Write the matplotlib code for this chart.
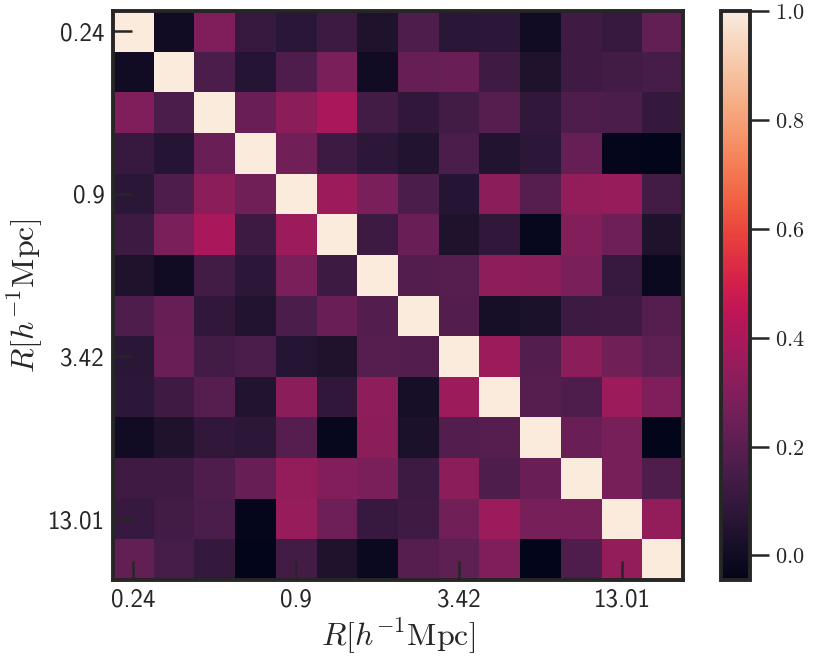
import numpy as np
import matplotlib
matplotlib.use("Agg")
import matplotlib.pyplot as plt
import seaborn as sns

plt.rcParams['mathtext.fontset'] = 'cm'
plt.rcParams['axes.unicode_minus'] = False

# radial bins (tick labels shown at every 4th bin)
tick_labels = ["0.24", "0.9", "3.42", "13.01"]
tick_index = [0, 4, 8, 12]

# upper triangle of the correlation matrix (row i, columns i..13)
r0 = [1.0, 0.00, 0.29, 0.11, 0.07, 0.12, 0.04, 0.17, 0.07, 0.08, 0.00, 0.13, 0.11, 0.22]
r1 = [1.0, 0.16, 0.06, 0.17, 0.28, 0.00, 0.23, 0.24, 0.13, 0.04, 0.13, 0.14, 0.15]
r2 = [1.0, 0.24, 0.32, 0.39, 0.14, 0.09, 0.14, 0.19, 0.09, 0.17, 0.16, 0.10]
r3 = [1.0, 0.26, 0.12, 0.08, 0.05, 0.16, 0.05, 0.08, 0.23, -0.035, -0.045]
r4 = [1.0, 0.36, 0.28, 0.16, 0.06, 0.32, 0.19, 0.34, 0.35, 0.14]
r5 = [1.0, 0.12, 0.24, 0.04, 0.09, -0.025, 0.30, 0.25, 0.04]
r6 = [1.0, 0.18, 0.19, 0.33, 0.32, 0.28, 0.11, -0.015]
r7 = [1.0, 0.18, 0.02, 0.03, 0.12, 0.13, 0.19]
r8 = [1.0, 0.36, 0.18, 0.32, 0.26, 0.21]
r9 = [1.0, 0.19, 0.17, 0.36, 0.29]
r10 = [1.0, 0.24, 0.27, -0.042]
r11 = [1.0, 0.27, 0.17]
r12 = [1.0, 0.34]
r13 = [1.0]
rows = [r0, r1, r2, r3, r4, r5, r6, r7, r8, r9, r10, r11, r12, r13]

n = len(rows)
M = np.zeros((n, n))
for i, r in enumerate(rows):
    for k, v in enumerate(r):
        M[i, i + k] = v
        M[i + k, i] = v

cmap = sns.color_palette("rocket", as_cmap=True)
vmin, vmax = M.min(), M.max()

W, H = 822, 661
fig = plt.figure(figsize=(W / 100, H / 100), dpi=100)
ax = fig.add_axes([113 / W, 1 - 580 / H, 570 / W, 569 / H])
cax = fig.add_axes([721 / W, 1 - 580 / H, 29 / W, 569 / H])

mesh = ax.pcolormesh(M, cmap=cmap, vmin=vmin, vmax=vmax)
ax.set_xlim(0, n)
ax.set_ylim(n, 0)

edge = '#262626'
for s in ax.spines.values():
    s.set_linewidth(2.8)
    s.set_color(edge)

pos = [i + 0.5 for i in tick_index]
ax.set_xticks(pos)
ax.set_yticks(pos)
ax.set_xticklabels(tick_labels, fontsize=18, family='cmss10')
ax.set_yticklabels(tick_labels, fontsize=18, family='cmss10')
ax.tick_params(axis='both', direction='in', length=14, width=1.8, color=edge,
               labelcolor='#262626', pad=6)

ax.set_xlabel(r"$R[h^{-1}\mathrm{Mpc}]$", fontsize=23, color='#262626', labelpad=4)
ax.set_ylabel(r"$R[h^{-1}\mathrm{Mpc}]$", fontsize=23, color='#262626', labelpad=2)

cb = fig.colorbar(mesh, cax=cax)
cb.outline.set_linewidth(2.8)
cb.outline.set_edgecolor(edge)
cb.set_ticks([0.0, 0.2, 0.4, 0.6, 0.8, 1.0])
cb.set_ticklabels([r"$%.1f$" % v for v in [0.0, 0.2, 0.4, 0.6, 0.8, 1.0]])
cax.tick_params(direction='out', length=14, width=1.8, color=edge,
                labelsize=16, labelcolor='#262626', pad=4)

fig.savefig("out.png", dpi=100)
